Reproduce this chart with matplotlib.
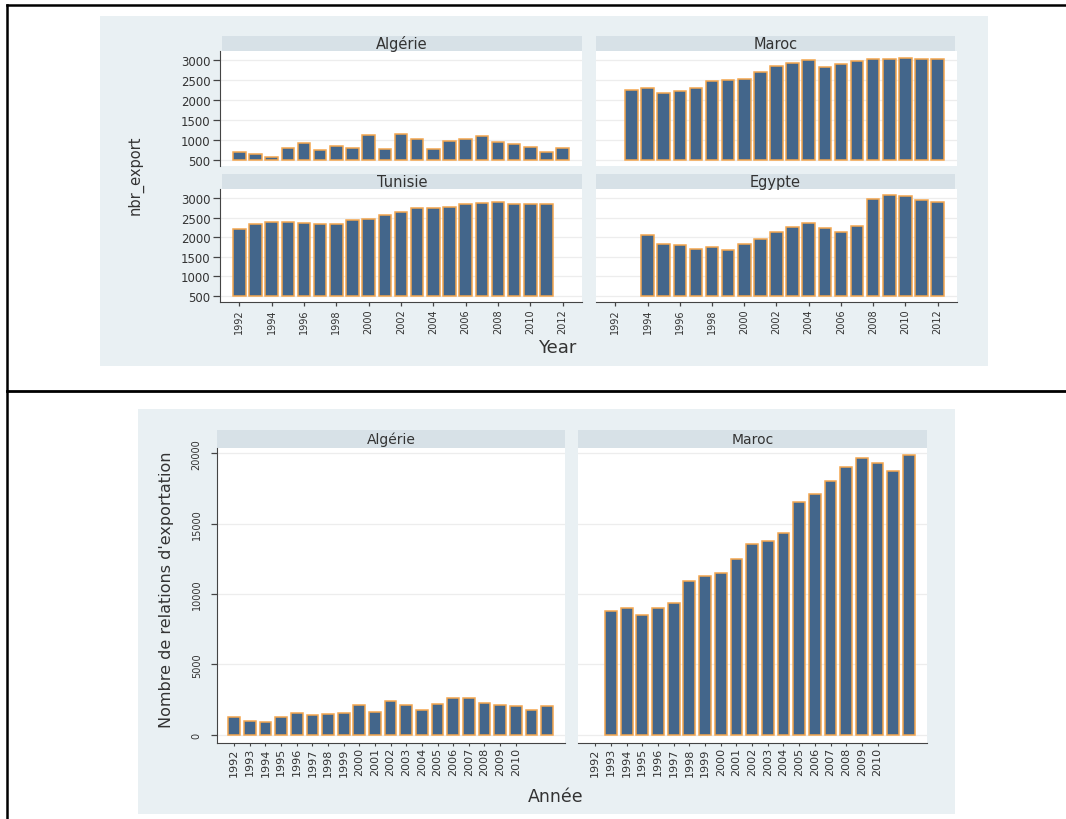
import numpy as np
import matplotlib
matplotlib.use("Agg")
import matplotlib.pyplot as plt
from matplotlib.patches import Rectangle
from matplotlib.lines import Line2D

plt.rcParams['font.family'] = ['DejaVu Sans']

# ---- data: exports by country and year ----
years_alg_top = list(range(1992, 2013))
alg_top = [690, 630, 570, 790, 920, 740, 850, 790, 1120, 770, 1140, 1030,
           770, 960, 1030, 1100, 950, 900, 810, 700, 790]

years_mar_top = list(range(1993, 2013))
mar_top = [2240, 2290, 2180, 2220, 2290, 2480, 2510, 2540, 2710, 2860, 2930,
           3010, 2830, 2900, 2980, 3040, 3030, 3060, 3030, 3040]

years_tun_top = list(range(1992, 2012))
tun_top = [2220, 2330, 2400, 2380, 2360, 2340, 2340, 2430, 2470, 2560, 2640,
           2750, 2740, 2770, 2840, 2880, 2900, 2850, 2840, 2840]

years_egy_top = list(range(1994, 2013))
egy_top = [2050, 1820, 1790, 1700, 1760, 1680, 1820, 1950, 2140, 2260, 2360,
           2230, 2140, 2280, 2970, 3080, 3060, 2940, 2910]

years_alg_bot = list(range(1992, 2013))
alg_bot = [1260, 970, 900, 1230, 1520, 1370, 1450, 1520, 2110, 1590, 2420,
           2110, 1750, 2160, 2580, 2630, 2250, 2110, 2040, 1730, 2010]

years_mar_bot = list(range(1993, 2013))
mar_bot = [8760, 9040, 8520, 8970, 9350, 10920, 11280, 11510, 12460, 13530,
           13790, 14330, 16510, 17080, 18050, 19030, 19640, 19290, 18770, 19880]

top_titles = ["Algérie", "Maroc", "Tunisie", "Egypte"]
bot_titles = ["Algérie", "Maroc"]
top_yticks = [500, 1000, 1500, 2000, 2500, 3000]
top_xticks = list(range(1992, 2013, 2))
bot_yticks = [0, 5000, 10000, 15000, 20000]
bot_xticks = list(range(1992, 2011))

# ---- styling ----
W, H = 1066, 820
BG = '#E9F0F3'
STRIP = '#D7E1E7'
BAR = '#43668B'
EDGE = '#F4A64E'
TXT = '#333333'
AXC = '#444444'
GRID = '#EDEDED'

fig = plt.figure(figsize=(W / 100, H / 100), dpi=100)
fig.patch.set_facecolor('white')


def frac(x0, y0, x1, y1):
    return [x0 / W, 1 - y1 / H, (x1 - x0) / W, (y1 - y0) / H]


def add_rect(x0, y0, x1, y1, color, z=-2):
    r = Rectangle((x0 / W, 1 - y1 / H), (x1 - x0) / W, (y1 - y0) / H,
                  transform=fig.transFigure, facecolor=color, edgecolor='none',
                  zorder=z)
    fig.patches.append(r)


def strip(x0, y0, x1, y1, title, size):
    add_rect(x0, y0, x1, y1, STRIP, z=-1)
    fig.text((x0 + x1) / 2 / W, 1 - (y0 + y1) / 2 / H, title, ha='center',
             va='center', fontsize=size, color=TXT)


def panel(box, years, vals, base, ylim, xlim, yticks, show_y, show_x,
          xticks=None, width=0.78):
    ax = fig.add_axes(frac(*box))
    ax.set_zorder(1)
    ax.set_facecolor('white')
    v = np.asarray(vals, dtype=float)
    ax.bar(years, v - base, bottom=base, width=width, color=BAR,
           edgecolor=EDGE, linewidth=1.1, zorder=3)
    ax.set_xlim(*xlim)
    ax.set_ylim(*ylim)
    ax.set_yticks(yticks)
    ax.yaxis.grid(True, color=GRID, linewidth=0.9, zorder=0)
    ax.set_axisbelow(True)
    for s in ['top', 'right']:
        ax.spines[s].set_visible(False)
    ax.spines['left'].set_visible(show_y)
    ax.spines['bottom'].set_visible(show_x)
    ax.spines['left'].set_color(AXC)
    ax.spines['bottom'].set_color(AXC)
    ax.tick_params(colors=AXC, labelcolor=TXT)
    if not show_y:
        ax.tick_params(axis='y', left=False, labelleft=False)
    if show_x:
        ax.set_xticks(xticks)
    else:
        ax.set_xticks([])
    return ax


# ================= top figure: 2x2 panels =================
add_rect(100, 17, 988, 367, BG)
xl_top = (1990.8, 2013.2)
yl_top = (340, 3232)

top_boxes = [(220, 52, 582, 167), (596, 52, 957, 167),
             (220, 190, 582, 303), (596, 190, 957, 303)]
top_series = [(years_alg_top, alg_top), (years_mar_top, mar_top),
              (years_tun_top, tun_top), (years_egy_top, egy_top)]
top_strips = [(222, 37, 582, 52), (596, 37, 955, 52),
              (222, 175, 582, 190), (596, 175, 955, 190)]

for i, (box, (yrs, vals), sb, title) in enumerate(
        zip(top_boxes, top_series, top_strips, top_titles)):
    show_y = i in (0, 2)
    show_x = i in (2, 3)
    ax = panel(box, yrs, vals, 500, yl_top, xl_top, top_yticks, show_y,
               show_x, top_xticks, width=0.78)
    strip(*sb, title, 10.5)
    if show_y:
        ax.tick_params(axis='y', length=5, width=0.9, pad=2, labelsize=8.5)
    if show_x:
        ax.tick_params(axis='x', length=3, width=0.9, pad=1.5, labelsize=7,
                       labelrotation=90)

fig.text(136 / W, 1 - 175 / H, "nbr_export", rotation=90, ha='center',
         va='center', fontsize=10.5, color=TXT)
fig.text(557 / W, 1 - 348 / H, "Year", ha='center', va='center',
         fontsize=13, color=TXT)

# ================= bottom figure: 1x2 panels =================
add_rect(138, 410, 955, 815, BG)
xl_bot = (1990.9, 2013.15)
yl_bot = (-590, 20377)

bot_boxes = [(217, 449, 565, 744), (578, 449, 927, 744)]
bot_series = [(years_alg_bot, alg_bot), (years_mar_bot, mar_bot)]
bot_strips = [(217, 431, 565, 449), (578, 431, 927, 449)]

for i, (box, (yrs, vals), sb, title) in enumerate(
        zip(bot_boxes, bot_series, bot_strips, bot_titles)):
    show_y = i == 0
    ax = panel(box, yrs, vals, 0, yl_bot, xl_bot, bot_yticks, show_y, True,
               bot_xticks, width=0.75)
    strip(*sb, title, 10)
    ax.tick_params(axis='x', length=2.5, width=0.8, pad=0.5, labelsize=8,
                   labelrotation=90)
    if show_y:
        ax.tick_params(axis='y', length=4, width=0.9, pad=7, labelsize=7,
                       labelrotation=90)
        for lab in ax.get_yticklabels():
            lab.set_va('center')

fig.text(167 / W, 1 - 590 / H, "Nombre de relations d'exportation",
         rotation=90, ha='center', va='center', fontsize=11.5, color=TXT)
fig.text(556 / W, 1 - 797 / H, "Année", ha='center', va='center',
         fontsize=12.5, color=TXT)

# ---- table rules around the two figures ----
for (x0, y0, x1, y1, lw) in [(7, 6, 7, 820, 1.8), (7, 6, 1066, 6, 1.8),
                             (7, 391.5, 1066, 391.5, 2.0)]:
    fig.add_artist(Line2D([x0 / W, x1 / W], [1 - y0 / H, 1 - y1 / H],
                          transform=fig.transFigure, color='black',
                          linewidth=lw, solid_capstyle='projecting'))

fig.savefig("out.png", dpi=100, facecolor='white')
